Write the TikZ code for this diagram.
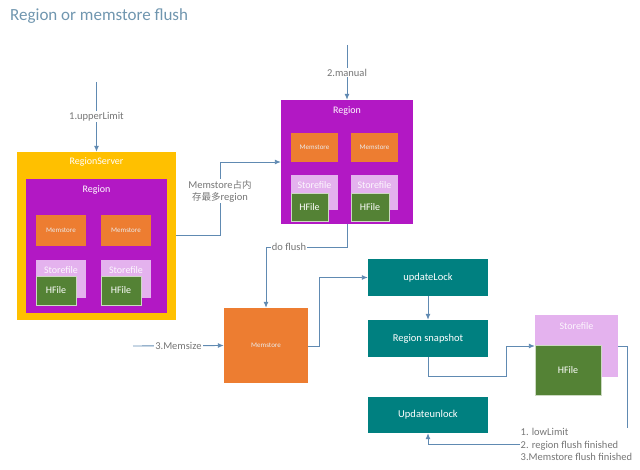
\documentclass[tikz,border=0pt]{standalone}
\usepackage{fontspec}
\setmainfont{Carlito}
\newfontfamily\cjk{Noto Sans CJK SC}
\usetikzlibrary{arrows.meta}
\definecolor{rsYellow}{RGB}{255,192,0}
\definecolor{regPurple}{RGB}{178,24,196}
\definecolor{msOrange}{RGB}{237,125,49}
\definecolor{sfPink}{RGB}{228,178,238}
\definecolor{hfGreen}{RGB}{84,130,53}
\definecolor{stepTeal}{RGB}{0,128,128}
\definecolor{lineBlue}{RGB}{96,138,178}
\definecolor{labelGray}{RGB}{118,118,118}
\definecolor{titleBlue}{RGB}{112,150,175}
\begin{document}
\begin{tikzpicture}[x=1pt,y=1pt,yscale=-1,xscale=1,
  box/.style={draw=none,inner sep=0pt,anchor=center},
  boxtext/.style={text=white,inner sep=0.75pt,font=\fontsize{10}{12}\selectfont},
  smalltext/.style={text=white!92!black,inner sep=0.75pt,font=\fontsize{7}{8}\selectfont},
  conn/.style={draw=lineBlue,line width=0.9pt,-{Latex[length=6pt,width=5pt]}},
  plain/.style={draw=lineBlue,line width=0.9pt},
  lbl/.style={fill=white,text=labelGray,inner sep=1pt,font=\fontsize{10.5}{12}\selectfont}]
\useasboundingbox (0,0) rectangle (640,470);
% Text Node
\node[anchor=west,text=titleBlue,inner sep=0pt,font=\fontsize{17}{20}\selectfont] (title) at (10,16) {Region or memstore flush};
%Shape: RegionServer
\node[box,fill=rsYellow,minimum width=159,minimum height=168] (rs) at (96.5,236) {};
\node[boxtext] (rslbl) at (96.5,162) {RegionServer};
\node[box,fill=regPurple,minimum width=141,minimum height=134] (rsreg) at (96.5,246) {};
\node[boxtext] (rsreglbl) at (96.5,190) {Region};
\node[box,fill=msOrange,minimum width=50,minimum height=31] (ms1) at (61,230.5) {};
\node[smalltext] at (ms1) {Memstore};
\node[box,fill=msOrange,minimum width=50,minimum height=31] (ms2) at (126,230.5) {};
\node[smalltext] at (ms2) {Memstore};
\node[box,fill=sfPink,minimum width=50,minimum height=38] (sf1) at (61,279) {};
\node[boxtext,text=white!90!sfPink] at (61,270) {Storefile};
\node[box,fill=sfPink,minimum width=50,minimum height=38] (sf2) at (126,279) {};
\node[boxtext,text=white!90!sfPink] at (126,270) {Storefile};
\node[box,fill=hfGreen,draw=white!70!hfGreen,minimum width=40,minimum height=29] (hf1) at (56,290.5) {};
\node[boxtext] at (hf1) {HFile};
\node[box,fill=hfGreen,draw=white!70!hfGreen,minimum width=40,minimum height=29] (hf2) at (121,290.5) {};
\node[boxtext] at (hf2) {HFile};
%Shape: Region
\node[box,fill=regPurple,minimum width=132,minimum height=124] (reg) at (347,162) {};
\node[boxtext] (reglbl) at (347,111) {Region};
\node[box,fill=msOrange,minimum width=47,minimum height=29] (ms3) at (314.5,147.5) {};
\node[smalltext] at (ms3) {Memstore};
\node[box,fill=msOrange,minimum width=47,minimum height=29] (ms4) at (374.5,147.5) {};
\node[smalltext] at (ms4) {Memstore};
\node[box,fill=sfPink,minimum width=47,minimum height=35] (sf3) at (314.5,192.5) {};
\node[boxtext,text=white!90!sfPink] at (314.5,185) {Storefile};
\node[box,fill=sfPink,minimum width=47,minimum height=35] (sf4) at (374.5,192.5) {};
\node[boxtext,text=white!90!sfPink] at (374.5,185) {Storefile};
\node[box,fill=hfGreen,draw=white!70!hfGreen,minimum width=37,minimum height=28] (hf3) at (309.5,207) {};
\node[boxtext] at (hf3) {HFile};
\node[box,fill=hfGreen,draw=white!70!hfGreen,minimum width=38,minimum height=28] (hf4) at (370,207) {};
\node[boxtext] at (hf4) {HFile};
%Shape: Memstore
\node[box,fill=msOrange,minimum width=84,minimum height=75] (mem) at (266,345.5) {};
\node[smalltext] at (mem) {Memstore};
%Shape: steps
\node[box,fill=stepTeal,minimum width=120,minimum height=37,text=white,font=\fontsize{10.5}{12}\selectfont] (ul) at (428,277.5) {updateLock};
\node[box,fill=stepTeal,minimum width=120,minimum height=37,text=white,font=\fontsize{10.5}{12}\selectfont] (rsn) at (428,338.5) {Region snapshot};
\node[box,fill=stepTeal,minimum width=120,minimum height=36,text=white,font=\fontsize{10.5}{12}\selectfont] (uu) at (428,415) {Updateunlock};
%Shape: Storefile
\node[box,fill=sfPink,minimum width=83,minimum height=62] (sf5) at (576.5,346) {};
\node[boxtext,text=white!90!sfPink] at (576.5,326) {Storefile};
\node[box,fill=hfGreen,draw=white!70!hfGreen,minimum width=66,minimum height=50] (hf5) at (568,370) {};
\node[boxtext] at (hf5) {HFile};
% Text Node
\node[anchor=north west,text=labelGray,inner sep=0.5pt,align=left,font=\fontsize{10.5}{12.5}\selectfont] (done) at (520,428) {1. lowLimit\\2. region flush finished\\3.Memstore flush finished};
%Connectors
\coordinate (up) at (96.5,82);
\coordinate (man) at (347,45);
\coordinate (msz) at (133,346);
\draw[conn] (up) -- node[lbl,pos=0.5] {1.upperLimit} (rs.north);
\draw[conn] (man) -- node[lbl,pos=0.5] {2.manual} (reg.north);
\draw[conn] (rs.east |- 0,235) -- ++(44,0) |- (reg.west);
\node[lbl,align=center] (mslbl) at (220,191) {Memstore{\cjk\fontsize{9.5}{12}\selectfont 占内}\\{\cjk\fontsize{9.5}{12}\selectfont 存最多}region};
\draw[conn] (reg.south) -- ++(0,23) -| (mem.north);
\node[lbl] (dflbl) at (289,247) {do flush};
\draw[conn] (msz) -- node[lbl,pos=0.5] {3.Memsize} (mem.west);
\draw[conn] (mem.east |- 0,346) -- ++(11,0) |- (ul.west);
\draw[conn] (ul.south) -- (rsn.north);
\draw[conn] (rsn.south) -- ++(0,19) -- ++(78,0) |- (sf5.west);
\draw[plain] (sf5.east) -| ([xshift=-5pt]done.north east);
\draw[conn] (done.west) -| (uu.south);
\end{tikzpicture}
\end{document}
